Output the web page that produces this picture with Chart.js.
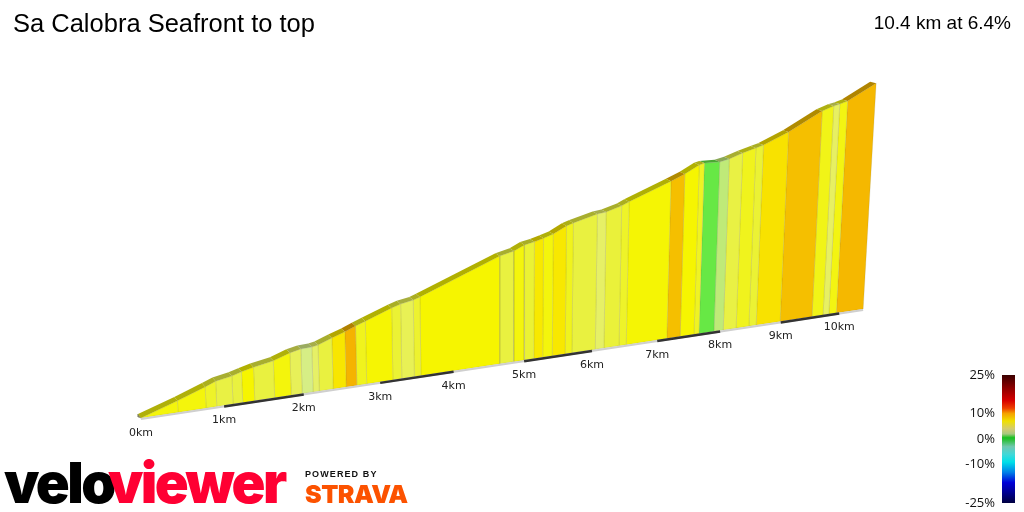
<!DOCTYPE html>
<html>
<head>
<meta charset="utf-8">
<title>Sa Calobra Seafront to top</title>
<script src="https://cdn.jsdelivr.net/npm/chart.js@4/dist/chart.umd.min.js"></script>
<style>
  html, body { margin: 0; padding: 0; background: #fff; width: 1024px; height: 512px; overflow: hidden; }
  #stage { position: relative; width: 1024px; height: 512px; font-family: "Liberation Sans", Arial, sans-serif; color: #000; }
  #profile { position: absolute; left: 0; top: 0; }
  #ramp { position: absolute; left: 944px; top: 362px; }
  .txt { position: absolute; white-space: nowrap; }
  #title { left: 13px; top: 9px; font-size: 25.5px; }
  #summary { right: 13px; top: 12px; font-size: 19px; }
  .logo { font-family: Inter, sans-serif; font-weight: 900; font-size: 56px; line-height: 56px; letter-spacing: -2.6px; }
  #velo { left: 4px; top: 455px; color: #000; }
  #viewer { left: 108px; top: 455px; color: #ff0033; }
  #powered { left: 305px; top: 469px; font: 700 9px "Liberation Sans", Arial, sans-serif; letter-spacing: 1.1px; color: #111; }
  #strava { left: 305px; top: 479px; font: 900 25px Inter, sans-serif; letter-spacing: -.5px; color: #fc5200; }
</style>
</head>
<body>
<div id="stage">
  <canvas id="profile" width="1024" height="512"></canvas>
  <canvas id="ramp" width="80" height="150"></canvas>
  <div class="txt" id="title">Sa Calobra Seafront to top</div>
  <div class="txt" id="summary">10.4 km at 6.4%</div>
  <div class="txt logo" id="velo">velo</div>
  <div class="txt logo" id="viewer">viewer</div>
  <div class="txt" id="powered">POWERED BY</div>
  <div class="txt" id="strava">STRAVA</div>
</div>
<script>
'use strict';

/* ── Climb data ─────────────────────────────────────────────────────────── */

// distance along the climb at each segment boundary (km)
var stationKm = [
  0, 0.44, 0.78, 0.91, 1.11, 1.23, 1.38, 1.63, 1.84, 1.98,
  2.12, 2.20, 2.38, 2.55, 2.69, 2.82, 3.17, 3.29, 3.46, 3.55,
  4.65, 4.85, 5.00, 5.14, 5.27, 5.41, 5.60, 5.70, 6.05, 6.18,
  6.41, 6.52, 7.15, 7.36, 7.58, 7.66, 7.90, 8.05, 8.26, 8.47,
  8.59, 8.99, 9.53, 9.72, 9.82, 9.95, 10.42
];

// height gained at each boundary (m)
var stationGain = [
  0, 28, 52, 62, 69, 76, 83, 92, 106, 112,
  113, 116, 129, 140, 151, 160, 185, 192, 198, 204,
  285, 294, 307, 312, 319, 327, 345, 351, 368, 371,
  383, 392, 437, 453, 474, 478, 477, 483, 496, 507,
  513, 544, 596, 608, 612, 619, 665
];

// shading gradient of each segment (%), one fewer than the boundaries
var segmentGrade = [
  5.9, 5.9, 5.4, 4.9, 5.0, 7.0, 5.0, 5.9, 4.4, 3.0,
  4.1, 5.0, 8.0, 10.5, 5.6, 6.5, 5.2, 4.5, 5.3, 7.0,
  5.0, 5.9, 5.2, 7.8, 5.9, 7.9, 5.6, 5.0, 4.1, 5.1,
  5.4, 6.3, 9.8, 6.8, 5.5, 0.3, 2.0, 4.9, 5.6, 5.2,
  8.2, 9.8, 5.7, 4.2, 5.8, 10.2
];

var kmTicks    = [0, 1, 2, 3, 4, 5, 6, 7, 8, 9, 10];
var darkKmRuns = [[1, 2], [3, 4], [5, 6], [7, 8], [9, 10]];
var climbEndKm = 10.42;

var rampTicks = [25, 10, 0, -10, -25];

/* ── Colours ────────────────────────────────────────────────────────────── */

var FILL_RAMP = [
  [0,  [88, 232, 60]],
  [2,  [191, 234, 120]],
  [3,  [214, 238, 133]],
  [4,  [230, 240, 106]],
  [5,  [233, 241, 64]],
  [6,  [245, 245, 6]],
  [7,  [246, 245, 0]],
  [8,  [248, 230, 0]],
  [10, [245, 187, 0]],
  [11, [245, 170, 0]]
];

var LEGEND_STOPS = [
  [25, '#3a0000'], [20, '#8c0000'], [15, '#d80000'], [12, '#ee4000'],
  [10, '#f5a000'], [7, '#f0e000'], [4, '#d4cc70'], [2, '#a8c880'],
  [0.5, '#18c020'], [-0.5, '#30c040'], [-3, '#70c8b0'], [-6, '#40d8d8'],
  [-9, '#00e0e8'], [-13, '#0080e8'], [-17, '#0000d8'], [-21, '#000090'], [-25, '#000040']
];

function _gradeRGB(g) {
  for (var i = 1; i < FILL_RAMP.length; i++) {
    if (g <= FILL_RAMP[i][0]) {
      var a = FILL_RAMP[i - 1], b = FILL_RAMP[i];
      var t = (g - a[0]) / (b[0] - a[0]);
      return a[1].map(function (c, n) { return Math.round(c + (b[1][n] - c) * t); });
    }
  }
  return FILL_RAMP[FILL_RAMP.length - 1][1];
}

function _css(rgb, k) {
  return 'rgb(' + rgb.map(function (c) { return Math.round(c * k); }).join(',') + ')';
}

/* ── Perspective: km + metres on the view plane ─────────────────────────── */

function _depth(km) { return 1 + 0.0216 * km; }

function _groundX(km) { return 141 + 84.9 * km / _depth(km); }

function _groundY(km) { return 418 - 0.151 * (_groundX(km) - 141); }

function _wall(km, gain) {
  var h = 0.416 * gain / _depth(km);
  var gx = _groundX(km);
  return { x: gx + h * (gx - 500) / 6300, y: _groundY(km) - h };
}

// rear edge of the road surface, set back from the wall top
function _rear(km, gain) {
  var p = _wall(km, gain), t = km / climbEndKm;
  return { x: p.x - 3 - 3 * t, y: p.y - 4 + 2.5 * t };
}

function _ground(km, drop) { return { x: _groundX(km), y: _groundY(km) + drop }; }

/* ── Datasets ───────────────────────────────────────────────────────────── */

function _poly(points, fillColor, edgeColor, edgeWidth) {
  return {
    data: points,
    fill: 'shape',
    backgroundColor: fillColor,
    borderColor: edgeColor,
    borderWidth: edgeWidth,
    pointRadius: 0,
    tension: 0
  };
}

function _stroke(points, color, width) {
  return { data: points, fill: false, borderColor: color, borderWidth: width, pointRadius: 0, tension: 0, borderCapStyle: 'butt' };
}

var datasets = [];

// ground strip, then the dark alternate kilometres over it
darkKmRuns.forEach(function (run) {
  datasets.push(_stroke([_ground(run[0], 1), _ground(run[1], 1)], '#333333', 2.5));
});
datasets.push(_stroke([_ground(0, 1), _ground(climbEndKm, 1)], '#cfcfcf', 2));

segmentGrade.forEach(function (grade, i) {
  var k0 = stationKm[i], k1 = stationKm[i + 1];
  var e0 = stationGain[i], e1 = stationGain[i + 1];
  var rgb = _gradeRGB(grade);

  datasets.push(_poly(
    [_wall(k0, e0), _wall(k1, e1), _rear(k1, e1), _rear(k0, e0), _wall(k0, e0)],
    _css(rgb, 0.72), 'rgba(0,0,0,0)', 0
  ));
  datasets.push(_poly(
    [_ground(k0, 0), _wall(k0, e0), _wall(k1, e1), _ground(k1, 0), _ground(k0, 0)],
    _css(rgb, 1), 'rgba(110,110,70,0.15)', 1
  ));
});

// cap closing the start of the road
datasets.push(_poly(
  [_ground(0, 0), _rear(0, 0), { x: _rear(0, 0).x, y: _rear(0, 0).y + 3 }, _ground(0, 0)],
  '#808060', '#808060', 0.5
));

/* ── Kilometre labels ───────────────────────────────────────────────────── */

var kmLabelPlugin = {
  id: 'kmLabels',
  afterDraw: function (chart) {
    var ctx = chart.ctx;
    ctx.save();
    ctx.font = '11px "DejaVu Sans"';
    ctx.fillStyle = '#222';
    ctx.textAlign = 'center';
    ctx.textBaseline = 'middle';
    kmTicks.forEach(function (km) {
      var p = _ground(km, 15);
      ctx.fillText(km + 'km', chart.scales.x.getPixelForValue(p.x), chart.scales.y.getPixelForValue(p.y));
    });
    ctx.restore();
  }
};

new Chart(document.getElementById('profile'), {
  type: 'line',
  data: { datasets: datasets },
  options: {
    responsive: false,
    animation: false,
    layout: { padding: 0 },
    plugins: { legend: { display: false }, tooltip: { enabled: false } },
    scales: {
      x: { type: 'linear', display: false, min: 0, max: 1024 },
      y: { type: 'linear', display: false, min: 0, max: 512, reverse: true }
    }
  },
  plugins: [kmLabelPlugin]
});

/* ── Gradient legend ────────────────────────────────────────────────────── */

new Chart(document.getElementById('ramp'), {
  type: 'bar',
  data: {
    labels: [''],
    datasets: [{
      data: [[-25, 25]],
      barPercentage: 1,
      categoryPercentage: 1,
      backgroundColor: function (c) {
        var area = c.chart.chartArea;
        if (!area) return '#888';
        var g = c.chart.ctx.createLinearGradient(0, area.top, 0, area.bottom);
        LEGEND_STOPS.forEach(function (s) { g.addColorStop((25 - s[0]) / 50, s[1]); });
        return g;
      }
    }]
  },
  options: {
    responsive: false,
    animation: false,
    layout: { padding: { left: 0, right: 9, top: 13, bottom: 9 } },
    plugins: { legend: { display: false }, tooltip: { enabled: false } },
    scales: {
      x: { display: false },
      y: {
        min: -25,
        max: 25,
        afterBuildTicks: function (axis) {
          axis.ticks = rampTicks.map(function (v) { return { value: v }; });
        },
        grid: { display: false, drawTicks: false },
        border: { display: false },
        afterFit: function (axis) { axis.width = 58; axis.paddingTop = 0; axis.paddingBottom = 0; },
        ticks: {
          autoSkip: false,
          padding: 7,
          color: '#111',
          font: { family: '"Open Sans"', size: 13 },
          callback: function (v) { return v + '%'; }
        }
      }
    }
  }
});
</script>
</body>
</html>
